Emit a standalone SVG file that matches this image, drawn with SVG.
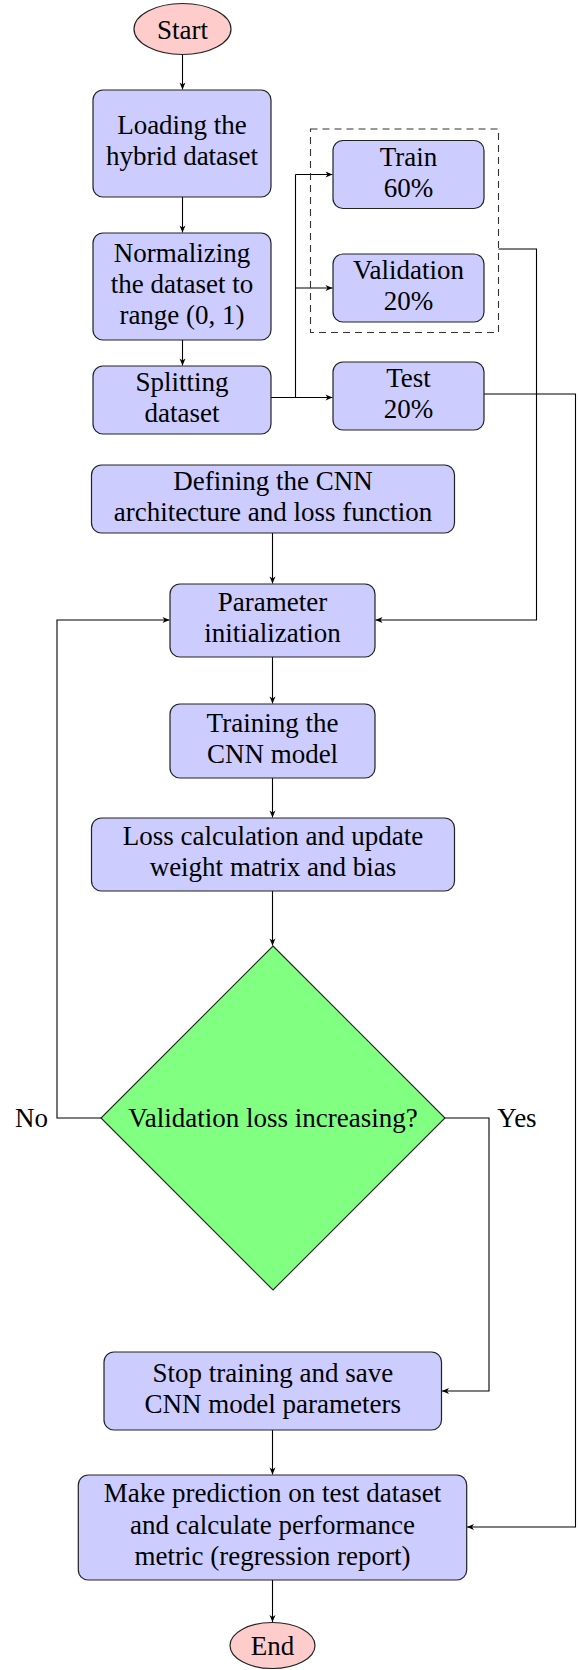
<svg xmlns="http://www.w3.org/2000/svg" width="578" height="1670" viewBox="0 0 578 1670">
<style>
.box{fill:#ccccff;stroke:#222;stroke-width:1.2}
.term{fill:#ffcccc;stroke:#222;stroke-width:1.2}
.dec{fill:#80ff80;stroke:#222;stroke-width:1.1}
.t{font-family:"Liberation Serif","Times New Roman",serif;font-size:27px;fill:#000;text-anchor:middle}
.e{fill:none;stroke:#000;stroke-width:1.1}
.a{marker-end:url(#arr)}
.dash{fill:none;stroke:#333;stroke-width:1.1;stroke-dasharray:7 5}
</style>
<defs>
<marker id="arr" markerUnits="userSpaceOnUse" markerWidth="10" markerHeight="8" viewBox="-8 -4 9 8" refX="0" refY="0" orient="auto">
<path d="M0,0 L-7,-3 L-5,0 L-7,3 Z" fill="#000"/>
</marker>
</defs>
<rect width="578" height="1670" fill="#fff"/>
<g id="connectors">
<path class="e a" d="M182.5,54.5 V89.5"/>
<path class="e a" d="M182.5,197 V232.5"/>
<path class="e a" d="M182.5,340 V365.5"/>
<path class="e a" d="M271,397.5 H332.5"/>
<path class="e" d="M295.5,397.5 V174.5"/>
<path class="e a" d="M295.5,174.5 H332.5"/>
<path class="e a" d="M295.5,288 H332.5"/>
<path class="e a" d="M498.5,249 H536.5 V620 H375.5"/>
<path class="e a" d="M484,394 H575.5 V1527 H467"/>
<path class="e a" d="M272.5,533 V583.5"/>
<path class="e a" d="M272.5,657 V703.5"/>
<path class="e a" d="M272.5,778 V817.5"/>
<path class="e a" d="M272.5,891 V945.5"/>
<path class="e a" d="M101,1118 H57 V620 H169.5"/>
<path class="e a" d="M445,1118 H489 V1391 H442"/>
<path class="e a" d="M272.5,1430 V1474.5"/>
<path class="e a" d="M272.5,1580 V1622"/>
</g>
<g id="start">
<ellipse class="term" cx="182.5" cy="29" rx="48.5" ry="25.5"/>
<text class="t" x="182.5" y="39">Start</text>
</g>
<g id="loading">
<rect class="box" x="93" y="90" width="178" height="107" rx="10"/>
<text class="t" x="182" y="134">Loading the</text>
<text class="t" x="182" y="165">hybrid dataset</text>
</g>
<g id="normalizing">
<rect class="box" x="93" y="233" width="178" height="107" rx="10"/>
<text class="t" x="182" y="262">Normalizing</text>
<text class="t" x="182" y="293">the dataset to</text>
<text class="t" x="182" y="324">range (0, 1)</text>
</g>
<g id="splitting">
<rect class="box" x="93" y="366" width="178" height="68" rx="10"/>
<text class="t" x="182" y="391">Splitting</text>
<text class="t" x="182" y="422">dataset</text>
</g>
<g id="trainval">
<rect class="dash" x="310.5" y="129" width="188" height="203.5"/>
</g>
<g id="train">
<rect class="box" x="333" y="140.5" width="151" height="68" rx="10"/>
<text class="t" x="408.5" y="165.5">Train</text>
<text class="t" x="408.5" y="196.5">60%</text>
</g>
<g id="validation">
<rect class="box" x="333" y="254" width="151" height="68" rx="10"/>
<text class="t" x="408.5" y="279">Validation</text>
<text class="t" x="408.5" y="310">20%</text>
</g>
<g id="test">
<rect class="box" x="333" y="362" width="151" height="68" rx="10"/>
<text class="t" x="408.5" y="387">Test</text>
<text class="t" x="408.5" y="418">20%</text>
</g>
<g id="defining">
<rect class="box" x="91.5" y="465" width="363" height="68" rx="10"/>
<text class="t" x="273" y="490">Defining the CNN</text>
<text class="t" x="273" y="521">architecture and loss function</text>
</g>
<g id="parameter">
<rect class="box" x="170" y="584" width="205" height="73" rx="10"/>
<text class="t" x="272.5" y="611">Parameter</text>
<text class="t" x="272.5" y="642">initialization</text>
</g>
<g id="training">
<rect class="box" x="170" y="704" width="205" height="74" rx="10"/>
<text class="t" x="272.5" y="732">Training the</text>
<text class="t" x="272.5" y="763">CNN model</text>
</g>
<g id="loss">
<rect class="box" x="91.5" y="818" width="363" height="73" rx="10"/>
<text class="t" x="273" y="845">Loss calculation and update</text>
<text class="t" x="273" y="876">weight matrix and bias</text>
</g>
<g id="decision">
<polygon class="dec" points="273,946 445,1118 273,1290 101,1118"/>
<text class="t" x="273" y="1127">Validation loss increasing?</text>
</g>
<g id="labels">
<text class="t" x="31.5" y="1127">No</text>
<text class="t" x="517" y="1127">Yes</text>
</g>
<g id="stop">
<rect class="box" x="104" y="1352" width="337.5" height="78" rx="10"/>
<text class="t" x="272.8" y="1381.5">Stop training and save</text>
<text class="t" x="272.8" y="1412.5">CNN model parameters</text>
</g>
<g id="predict">
<rect class="box" x="78.3" y="1475" width="388.4" height="105" rx="10"/>
<text class="t" x="272.5" y="1502">Make prediction on test dataset</text>
<text class="t" x="272.5" y="1533.5">and calculate performance</text>
<text class="t" x="272.5" y="1565">metric (regression report)</text>
</g>
<g id="end">
<ellipse class="term" cx="272.5" cy="1645.5" rx="42.5" ry="23"/>
<text class="t" x="272.5" y="1655">End</text>
</g>
</svg>
